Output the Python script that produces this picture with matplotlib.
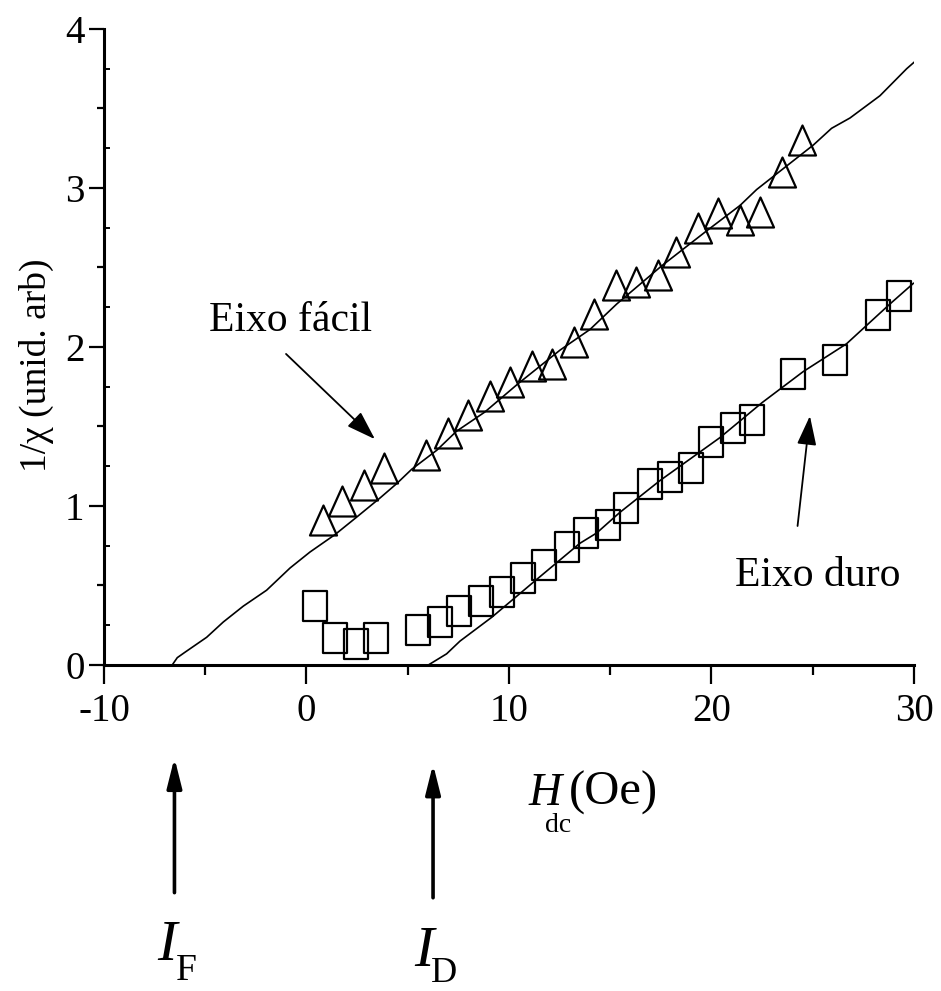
import matplotlib
matplotlib.use("Agg")
import matplotlib.pyplot as plt
from matplotlib.path import Path
import numpy as np

plt.rcParams['font.family'] = ['Liberation Serif', 'DejaVu Serif']
plt.rcParams['mathtext.fontset'] = 'stix'
plt.rcParams['axes.unicode_minus'] = False

# Eixo fácil (triangles)
fac_h = [0.80, 1.77, 2.82, 3.83, 5.92, 6.97, 7.96, 9.06, 10.05, 11.12, 12.11, 13.23,
         14.20, 15.28, 16.27, 17.34, 18.25, 19.32, 20.31, 21.41, 22.40, 23.47, 24.45]
fac_inv = [0.91, 1.03, 1.13, 1.24, 1.32, 1.46, 1.57, 1.69, 1.78, 1.88, 1.89, 2.03,
           2.21, 2.39, 2.41, 2.45, 2.60, 2.75, 2.84, 2.80, 2.85, 3.10, 3.30]

# Eixo duro (squares)
duro_h = [0.42, 1.41, 2.44, 3.42, 5.51, 6.58, 7.54, 8.63, 9.64, 10.67, 11.72, 12.85,
          13.79, 14.89, 15.80, 16.94, 17.93, 18.98, 19.97, 21.05, 22.00, 24.02, 26.08,
          28.21, 29.25]
duro_inv = [0.37, 0.17, 0.13, 0.17, 0.22, 0.27, 0.34, 0.40, 0.46, 0.55, 0.63, 0.74,
            0.83, 0.88, 0.99, 1.14, 1.18, 1.24, 1.40, 1.49, 1.54, 1.83, 1.92, 2.20, 2.32]

# fitted curves
fit_fac_h = [-6.63, -6.38, -6.0, -4.93, -4.11, -3.12, -1.97, -0.81, 0.17, 1.41, 2.48,
             3.63, 4.45, 5.19, 6.43, 7.41, 8.8, 10.46, 12.52, 14.0, 15.32, 17.54, 19.76,
             21.41, 22.23, 25.03, 25.93, 26.84, 28.32, 29.64, 30.0]
fit_fac_inv = [0.0, 0.046, 0.08, 0.174, 0.27, 0.37, 0.47, 0.61, 0.71, 0.82, 0.93,
               1.05, 1.14, 1.23, 1.35, 1.47, 1.59, 1.77, 1.98, 2.11, 2.27, 2.51, 2.73,
               2.89, 2.99, 3.27, 3.375, 3.44, 3.58, 3.75, 3.79]
fit_duro_h = [6.02, 6.92, 7.58, 9.15, 11.2, 13.5, 14.33, 15.48, 17.46, 20.42, 22.5,
              24.53, 26.67, 28.81, 29.97]
fit_duro_inv = [0.0, 0.07, 0.15, 0.30, 0.52, 0.765, 0.83, 0.96, 1.16, 1.43, 1.65,
                1.845, 2.02, 2.27, 2.40]

# anisotropy fields
i_f = -6.52
i_d = 6.25

# slightly tall markers
tri = Path([(0, 1), (-0.9, -1), (0.9, -1), (0, 1)], closed=True)
rect = Path([(-0.77, -1), (0.77, -1), (0.77, 1), (-0.77, 1), (-0.77, -1)], closed=True)

fig = plt.figure(figsize=(9.41, 9.91), dpi=100)
ax = fig.add_axes([0.1105, 0.329, 0.8608, 0.6418])

ax.plot(fit_fac_h, fit_fac_inv, color='black', lw=1.2)
ax.plot(fit_duro_h, fit_duro_inv, color='black', lw=1.2)
ax.plot(fac_h, fac_inv, ls='none', marker=tri, ms=21.6, mfc='none', mec='black', mew=1.6)
ax.plot(duro_h, duro_inv, ls='none', marker=rect, ms=21.6, mfc='none', mec='black', mew=1.6)

ax.set_xlim(-10, 30)
ax.set_ylim(0, 4)
for s in ['top', 'right']:
    ax.spines[s].set_visible(False)
for s in ['left', 'bottom']:
    ax.spines[s].set_linewidth(2.2)

ax.set_xticks([-10, 0, 10, 20, 30])
ax.set_xticks([-5, 5, 15, 25], minor=True)
ax.set_yticks([0, 1, 2, 3, 4])
ax.set_yticks([0.5, 1.5, 2.5, 3.5], minor=True)
ax.tick_params(axis='x', which='major', direction='out', length=14, width=1.6,
               labelsize=28, pad=6)
ax.tick_params(axis='x', which='minor', direction='out', length=7, width=1.6)
ax.tick_params(axis='y', which='major', direction='out', length=11, width=1.6,
               labelsize=28, pad=3)
ax.tick_params(axis='y', which='minor', direction='out', length=5, width=1.6)

# small inner ticks between the half units
sec = ax.secondary_yaxis('left')
sec.set_yticks([0.25, 0.75, 1.25, 1.75, 2.25, 2.75, 3.25, 3.75])
sec.tick_params(direction='in', length=4, width=1.4, labelleft=False)
sec.spines['left'].set_visible(False)

ax.set_ylabel('1/χ (unid. arb)', fontsize=27)
ax.yaxis.set_label_coords(-0.062, 0.472)

# x label: H with a dropped "dc" subscript
ax.text(0.5247, -0.2201, 'H', style='italic', fontsize=33,
        transform=ax.transAxes, ha='left', va='baseline')
ax.text(0.5445, -0.2626, 'dc', fontsize=20,
        transform=ax.transAxes, ha='left', va='baseline')
ax.text(0.5740, -0.2201, '(Oe)', fontsize=35,
        transform=ax.transAxes, ha='left', va='baseline')

ax.annotate('', xy=(3.38, 1.42), xytext=(-1.01, 1.956),
            arrowprops=dict(arrowstyle='-|>,head_length=0.6,head_width=0.2',
                            mutation_scale=30, lw=1.3, color='black',
                            shrinkA=0, shrinkB=0))
ax.text(-4.81, 2.10, 'Eixo fácil', fontsize=30, ha='left', va='baseline')

ax.annotate('', xy=(24.86, 1.566), xytext=(24.25, 0.874),
            arrowprops=dict(arrowstyle='-|>,head_length=0.6,head_width=0.2',
                            mutation_scale=30, lw=1.3, color='black',
                            shrinkA=0, shrinkB=0))
ax.text(21.16, 0.497, 'Eixo duro', fontsize=30, ha='left', va='baseline')

# arrows under the axis marking I_F and I_D
for hx, tip, tail in [(i_f, -0.146, -0.358), (i_d, -0.156, -0.366)]:
    ax.annotate('', xy=(hx, tip), xytext=(hx, tail),
                xycoords=('data', 'axes fraction'), textcoords=('data', 'axes fraction'),
                arrowprops=dict(arrowstyle='-|>,head_length=0.6,head_width=0.15',
                                mutation_scale=30, lw=2.6, color='black',
                                shrinkA=0, shrinkB=0),
                annotation_clip=False)

xt = ax.get_xaxis_transform()
ax.text(-7.35, -0.4638, 'I', style='italic', fontsize=42, transform=xt,
        ha='left', va='baseline')
ax.text(-6.45, -0.4953, 'F', fontsize=27, transform=xt, ha='left', va='baseline')
ax.text(5.30, -0.4733, 'I', style='italic', fontsize=42, transform=xt,
        ha='left', va='baseline')
ax.text(6.15, -0.4984, 'D', fontsize=26, transform=xt, ha='left', va='baseline')

fig.savefig('out.png', dpi=100)
